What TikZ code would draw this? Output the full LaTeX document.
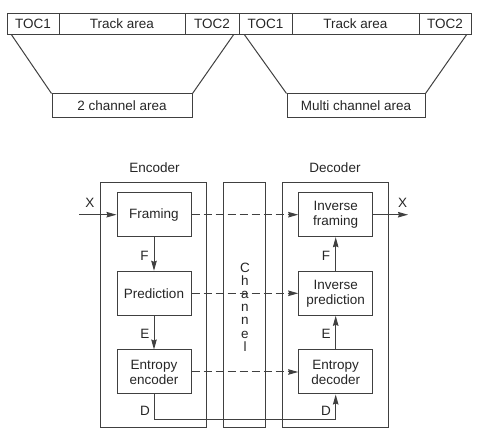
\documentclass[tikz,border=0pt]{standalone}
\usepackage{fontspec}
\setmainfont{Liberation Sans}
\usetikzlibrary{arrows.meta,calc}
\begin{document}
\begin{tikzpicture}[x=1pt,y=-1pt,
  ln/.style={draw=black!75,line width=1pt},
  cell/.style={ln,rectangle,inner sep=0pt,minimum height=21pt,font=\fontsize{13.5}{15}\selectfont,text=black!85},
  abox/.style={ln,rectangle,inner sep=0pt,minimum height=24pt,font=\fontsize{13.5}{15}\selectfont,text=black!85},
  outer/.style={ln,rectangle,inner sep=0pt,minimum height=245pt},
  blk/.style={ln,rectangle,inner sep=0pt,minimum width=74pt,minimum height=44pt,align=center,font=\fontsize{13.5}{15}\selectfont,text=black!85},
  lbl/.style={inner sep=0pt,font=\fontsize{13.5}{15}\selectfont,text=black!85},
  arr/.style={ln,-{Stealth[length=10pt,width=5.5pt,inset=1pt]}},
  dsh/.style={ln,dash pattern=on 8pt off 4pt,-{Stealth[length=10pt,width=5.5pt,inset=1pt]}}]
\useasboundingbox (0,0) rectangle (477,438);
% top bar
\node[cell,minimum width=52pt] (ta1) at (33,23.8) {TOC1};
\node[cell,minimum width=126pt] (tr1) at (122,23.8) {Track area};
\node[cell,minimum width=54pt] (tb1) at (212,23.8) {TOC2};
\node[cell,minimum width=53pt] (ta2) at (265.5,23.8) {TOC1};
\node[cell,minimum width=127pt] (tr2) at (355.5,23.8) {Track area};
\node[cell,minimum width=52pt] (tb2) at (445,23.8) {TOC2};
\node[abox,minimum width=140pt] (c2) at (122,106) {2 channel area};
\node[abox,minimum width=138pt] (cm) at (356,106) {Multi channel area};
\coordinate (p1) at ($(ta1.south west)+(5,0)$);
\coordinate (p2) at ($(tb1.south east)+(-6,0)$);
\coordinate (p3) at ($(ta2.south west)+(6,0)$);
\coordinate (p4) at ($(tb2.south east)+(-5,0)$);
\draw[ln] (p1) -- (c2.north west);
\draw[ln] (p2) -- (c2.north east);
\draw[ln] (p3) -- (cm.north west);
\draw[ln] (p4) -- (cm.north east);
% lower diagram
\node[outer,minimum width=106pt] (enc) at (153.7,305.5) {};
\node[outer,minimum width=42pt] (ch) at (244.3,305.5) {};
\node[outer,minimum width=105.6pt] (dec) at (335.5,305.5) {};
\node[lbl] (encl) at (154.5,168) {Encoder};
\node[lbl] (decl) at (335,168) {Decoder};
\node[lbl,align=center,font=\fontsize{13.5}{13.2}\selectfont] (chl) at (245,307) {C\\h\\a\\n\\n\\e\\l};
\node[blk] (fr) at (154,214.7) {Framing};
\node[blk] (pr) at (154,293.3) {Prediction};
\node[blk] (ee) at (154,372) {Entropy\\encoder};
\node[blk] (ifr) at (335.7,214.7) {Inverse\\framing};
\node[blk] (ipr) at (335.7,293.3) {Inverse\\prediction};
\node[blk] (ed) at (335.7,372) {Entropy\\decoder};
\coordinate (xin) at (79,214.7);
\coordinate (xout) at (408,214.7);
\draw[arr] (xin) -- (fr.west);
\draw[arr] (ifr.east) -- (xout);
\node[lbl] (xl1) at (90,203) {X};
\node[lbl] (xl2) at (402.7,203) {X};
\draw[arr] (fr.south) -- (pr.north);
\draw[arr] (pr.south) -- (ee.north);
\draw[arr] (ipr.north) -- (ifr.south);
\draw[arr] (ed.north) -- (ipr.south);
\node[lbl] (fl1) at (144.5,256) {F};
\node[lbl] (el1) at (145,334) {E};
\node[lbl] (dl1) at (145,410.7) {D};
\node[lbl] (fl2) at (326,256) {F};
\node[lbl] (el2) at (326,334) {E};
\node[lbl] (dl2) at (326,410.7) {D};
\draw[arr] (ee.south) -- ++(0,25.3) -| (ed.south);
\draw[dsh] (fr.east) -- (ifr.west);
\draw[dsh] (pr.east) -- (ipr.west);
\draw[dsh] (ee.east) -- (ed.west);
\end{tikzpicture}
\end{document}
